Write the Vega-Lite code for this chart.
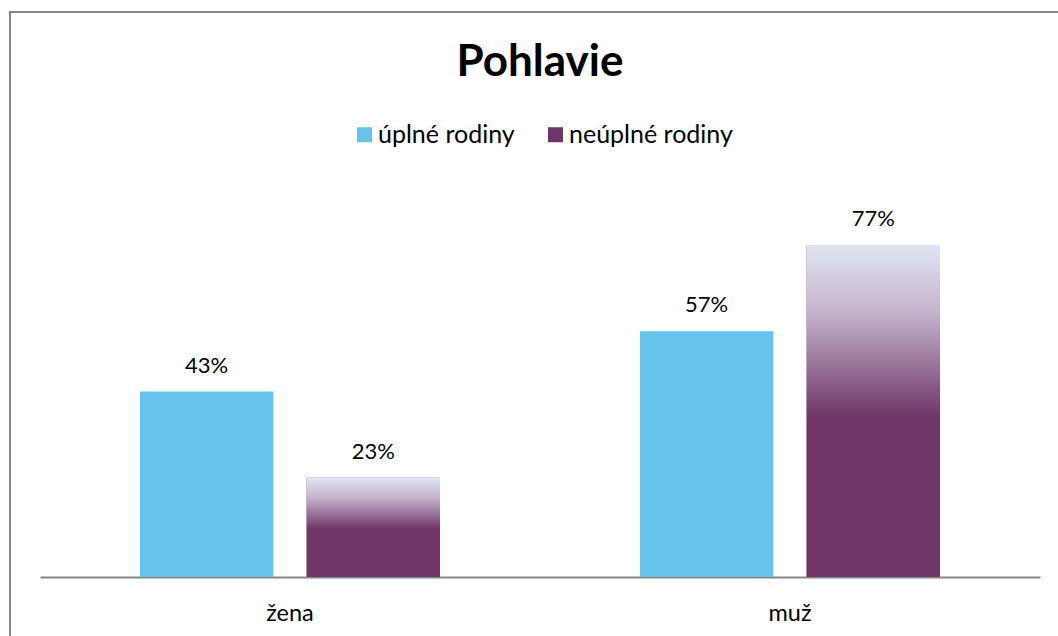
{
  "$schema": "https://vega.github.io/schema/vega-lite/v6.json",
  "width": 1060,
  "height": 630,
  "autosize": {"type": "none"},
  "padding": {"left": 10, "top": 12, "right": -12, "bottom": -6},
  "background": "white",
  "title": {
    "text": "Pohlavie",
    "font": "Lato",
    "fontSize": 44,
    "fontWeight": "bold",
    "color": "#000000",
    "anchor": "middle",
    "frame": "group",
    "baseline": "alphabetic",
    "offset": -108
  },
  "data": {
    "values": [
      {"g": "žena", "s": "úplné rodiny", "v": 43, "label": "43%"},
      {"g": "žena", "s": "neúplné rodiny", "v": 23, "label": "23%"},
      {"g": "muž", "s": "úplné rodiny", "v": 57, "label": "57%"},
      {"g": "muž", "s": "neúplné rodiny", "v": 77, "label": "77%"}
    ]
  },
  "encoding": {
    "x": {
      "field": "g",
      "type": "nominal",
      "sort": ["žena", "muž"],
      "scale": {"range": [30, 1030], "paddingInner": 0.4, "paddingOuter": 0.2},
      "axis": {
        "title": null,
        "labelAngle": 0,
        "ticks": false,
        "domainColor": "#868686",
        "domainWidth": 2,
        "offset": -65,
        "labelFont": "Lato",
        "labelFontSize": 23.5,
        "labelColor": "#000000",
        "labelPadding": 24
      }
    },
    "xOffset": {
      "field": "s",
      "type": "nominal",
      "sort": ["úplné rodiny", "neúplné rodiny"],
      "scale": {"paddingInner": 0.2, "paddingOuter": 0}
    },
    "y": {
      "field": "v",
      "type": "quantitative",
      "scale": {"domain": [0, 90], "range": [565, 177], "nice": false, "zero": true},
      "axis": null
    }
  },
  "layer": [
    {
      "mark": {"type": "bar"},
      "encoding": {
        "color": {
          "field": "s",
          "type": "nominal",
          "sort": ["úplné rodiny", "neúplné rodiny"],
          "scale": {"domain": ["úplné rodiny", "neúplné rodiny"], "range": ["#66c4ec", "#6f3566"]},
          "legend": {
            "orient": "none",
            "legendX": 342,
            "legendY": 110,
            "direction": "horizontal",
            "title": null,
            "symbolType": "square",
            "symbolSize": 225,
            "symbolStrokeWidth": 0,
            "symbolOpacity": 1,
            "labelFont": "Lato",
            "labelFontSize": 25,
            "labelColor": "#000000",
            "labelOffset": 1,
            "labelLimit": 400,
            "columnPadding": 28
          }
        }
      }
    },
    {
      "transform": [{"filter": "datum.s === 'neúplné rodiny'"}],
      "mark": {
        "type": "bar",
        "fill": {
          "gradient": "linear",
          "x1": 0, "y1": 0, "x2": 0, "y2": 1,
          "stops": [
            {"offset": 0, "color": "#e0e5f3"},
            {"offset": 0.2, "color": "#c4b4cd"},
            {"offset": 0.52, "color": "#6f3566"},
            {"offset": 1, "color": "#6f3566"}
          ]
        }
      }
    },
    {
      "mark": {
        "type": "text",
        "font": "Lato",
        "fontSize": 22,
        "color": "#000000",
        "baseline": "alphabetic",
        "dy": -19
      },
      "encoding": {"text": {"field": "label"}}
    }
  ],
  "config": {
    "view": {"stroke": "#868686", "strokeWidth": 2}
  }
}
